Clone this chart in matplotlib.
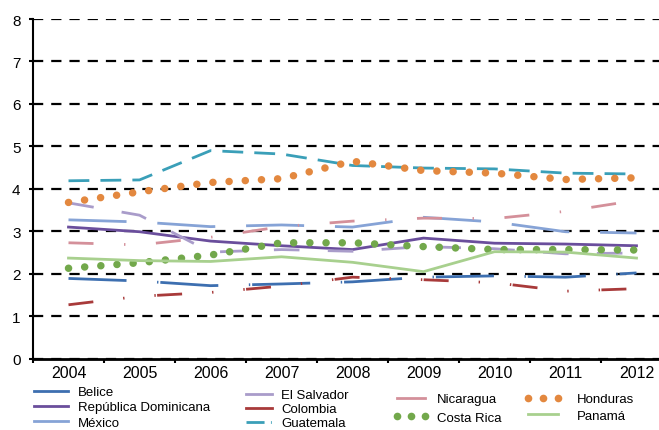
import numpy as np
import matplotlib
matplotlib.use("Agg")
import matplotlib.pyplot as plt
from matplotlib.lines import Line2D

plt.rcParams['font.family'] = ['Liberation Sans', 'DejaVu Sans']

years = ["2004", "2005", "2006", "2007", "2008", "2009", "2010", "2011", "2012"]

belice = [1.89, 1.83, 1.72, 1.76, 1.81, 1.92, 1.95, 1.92, 2.02]
rep_dominicana = [3.10, 2.99, 2.77, 2.66, 2.57, 2.84, 2.72, 2.70, 2.66]
mexico = [3.27, 3.22, 3.11, 3.15, 3.10, 3.33, 3.22, 2.99, 2.96]
el_salvador = [3.67, 3.38, 2.51, 2.57, 2.53, 2.64, 2.59, 2.47, 2.49]
colombia = [1.27, 1.47, 1.56, 1.71, 1.92, 1.86, 1.79, 1.59, 1.65]
guatemala = [4.19, 4.21, 4.90, 4.82, 4.55, 4.49, 4.47, 4.37, 4.35]
nicaragua = [2.73, 2.68, 2.86, 3.11, 3.24, 3.31, 3.30, 3.47, 3.73]
costa_rica = [2.13, 2.26, 2.44, 2.73, 2.73, 2.64, 2.57, 2.57, 2.56]
honduras = [3.68, 3.93, 4.15, 4.24, 4.65, 4.43, 4.37, 4.22, 4.26]
panama = [2.37, 2.31, 2.29, 2.40, 2.27, 2.05, 2.52, 2.51, 2.37]

c_belice = '#3d6fb0'
c_repdom = '#6a4e9c'
c_mexico = '#86a3d6'
c_salvador = '#a99cca'
c_colombia = '#a83a3a'
c_guate = '#3a9fb8'
c_nica = '#d4909a'
c_costa = '#72a84b'
c_hond = '#e3883f'
c_panama = '#a8d08e'

fig = plt.figure(figsize=(6.59, 4.31), dpi=100)
ax = fig.add_axes([33 / 659, 1 - 359.7 / 431, 639 / 659, (359.7 - 20) / 431])
x = np.arange(len(years))

lw = 2.0
ax.plot(x, belice, color=c_belice, lw=lw, dashes=(20.9, 11, 0.5, 0.7))
ax.plot(x, rep_dominicana, color=c_repdom, lw=lw)
ax.plot(x, mexico, color=c_mexico, lw=lw, dashes=(20.9, 11.1))
ax.plot(x, el_salvador, color=c_salvador, lw=lw, dashes=(9.2, 10.2))
ax.plot(x, colombia, color=c_colombia, lw=lw, dashes=(9, 10.8, 0.5, 10.8, 0.5, 0.5))
ax.plot(x, guatemala, color=c_guate, lw=lw, dashes=(7.5, 4.0))
ax.plot(x, nicaragua, color=c_nica, lw=lw, dashes=(9, 11, 0.5, 11))
ax.plot(x, costa_rica, color=c_costa, lw=5.4, dashes=(0.01, 2.15), dash_capstyle='round')
ax.plot(x, honduras, color=c_hond, lw=5.4, dashes=(0.01, 2.15), dash_capstyle='round')
ax.plot(x, panama, color=c_panama, lw=lw)

ax.set_xlim(-0.5, 8.5)
ax.set_ylim(0, 8)
ax.set_yticks(range(0, 9))
ax.set_xticks(x)
ax.set_xticklabels(years)
ax.set_xticks(np.arange(-0.5, 9, 1), minor=True)
ax.tick_params(axis='x', which='major', length=0, pad=4.5, labelsize=11.5)
ax.tick_params(axis='x', which='minor', length=3, width=1.5, direction='out')
ax.tick_params(axis='y', length=3, width=1.5, pad=6, labelsize=11)

ax.yaxis.grid(True, color='black', lw=1.6, linestyle=(0, (4.6, 3.6)))
ax.set_axisbelow(True)
for s in ['top', 'right']:
    ax.spines[s].set_visible(False)
ax.spines['left'].set_linewidth(1.5)
ax.spines['bottom'].set_linewidth(2)

fs = 9.5


def solid(c):
    return Line2D([], [], color=c, lw=2)


def dots(c):
    return Line2D([], [], color=c, ls='none', marker='o', ms=5.5, mew=0)


def add_leg(handles, labels, xp, yp, hl, pad, spacing, npts=1):
    leg = fig.legend(handles, labels, loc='upper left',
                     bbox_to_anchor=(xp / 659, 1 - yp / 431),
                     frameon=False, borderpad=0, borderaxespad=0,
                     handlelength=hl, handletextpad=pad, labelspacing=spacing,
                     fontsize=fs, numpoints=npts)
    return leg


add_leg([solid(c_belice), solid(c_repdom), solid(c_mexico)],
        ["Belice", "República Dominicana", "México"], 34, 387, 2.58, 0.76, 0.22)
add_leg([solid(c_salvador), solid(c_colombia),
         Line2D([], [], color=c_guate, lw=2, dashes=(6.5, 2.3, 0.3, 2.3))],
        ["El Salvador", "Colombia", "Guatemala"], 246, 390, 1.97, 0.68, 0.14)
add_leg([solid(c_nica), dots(c_costa)],
        ["Nicaragua", "Costa Rica"], 393, 394, 2.73, 0.6, 0.48, npts=3)
add_leg([dots(c_hond), solid(c_panama)],
        ["Honduras", "Panamá"], 524, 394, 2.88, 1.14, 0.33, npts=3)

fig.savefig("out.png", dpi=100)
